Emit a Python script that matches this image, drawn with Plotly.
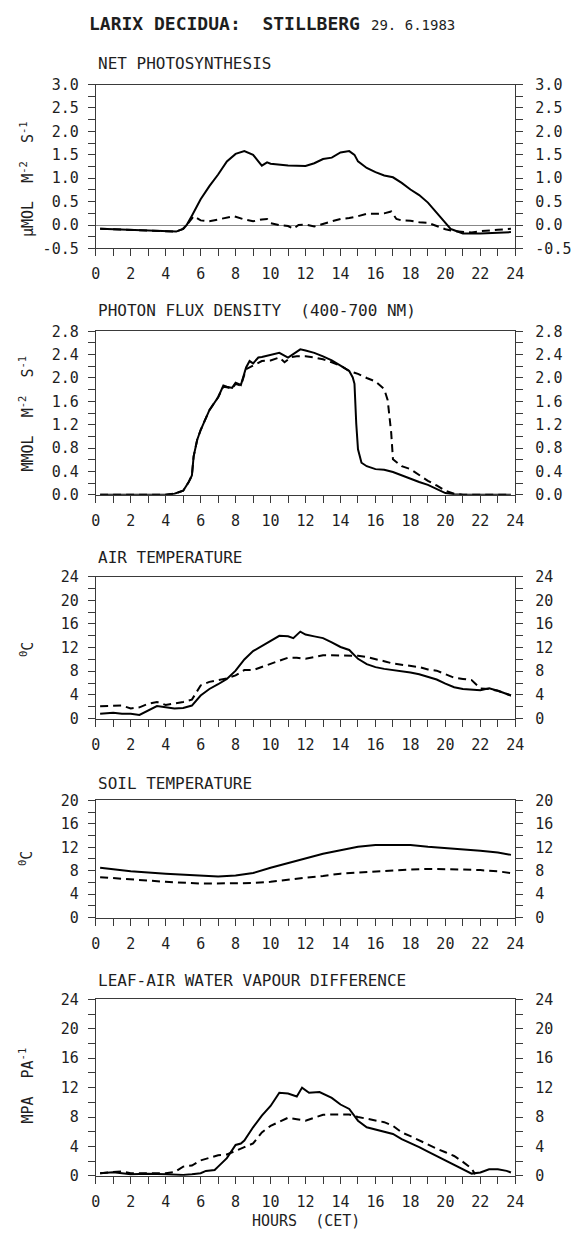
import plotly.graph_objects as go

# ---------------- DATA ----------------
# Net photosynthesis (umol m-2 s-1)
np_solid_h = [0.25, 1, 2, 3, 4, 4.6, 5.0, 5.2, 5.5, 6.0, 6.5, 7.0, 7.5, 8.0, 8.5, 9.0, 9.3, 9.5, 9.8, 10, 11, 12, 12.5,
              13, 13.5, 14, 14.5, 14.8, 15, 15.5, 16, 16.5, 17, 17.5, 18, 18.5, 19, 19.5, 20, 20.3, 20.5, 21, 22, 23, 23.75]
np_solid = [-0.08, -0.09, -0.1, -0.12, -0.14, -0.14, -0.08, 0.0, 0.2, 0.55, 0.83, 1.08, 1.36, 1.52, 1.58, 1.5, 1.36, 1.27,
            1.34, 1.31, 1.27, 1.26, 1.32, 1.41, 1.44, 1.55, 1.58, 1.5, 1.36, 1.22, 1.13, 1.06, 1.02, 0.9, 0.76, 0.64, 0.48,
            0.27, 0.06, -0.08, -0.11, -0.18, -0.18, -0.16, -0.15]
np_dash_h = [0.25, 1, 2, 3, 4, 4.6, 5.0, 5.2, 5.6, 6.0, 6.5, 7.0, 7.5, 7.9, 8.5, 9.0, 9.5, 9.8, 10, 10.5, 11, 11.3, 11.6, 12,
             12.5, 13, 13.5, 14, 14.5, 15, 15.5, 16, 16.5, 16.9, 17.2, 17.5, 18, 18.5, 19, 19.5, 20, 20.5, 21, 21.5, 22,
             22.5, 23, 23.75]
np_dash = [-0.08, -0.09, -0.1, -0.12, -0.14, -0.14, -0.08, 0.0, 0.19, 0.1, 0.08, 0.12, 0.17, 0.19, 0.12, 0.08, 0.12, 0.13,
           0.04, 0.0, -0.02, -0.08, 0.0, 0.01, -0.03, 0.03, 0.08, 0.13, 0.15, 0.19, 0.24, 0.24, 0.25, 0.29, 0.13, 0.1, 0.09,
           0.06, 0.05, -0.02, -0.09, -0.13, -0.15, -0.16, -0.13, -0.11, -0.1, -0.08]

# Photon flux density (mmol m-2 s-1)
pfd_solid_h = [0.25, 2, 4, 4.5, 5.0, 5.3, 5.5, 5.6, 5.8, 6.0, 6.5, 7.0, 7.3, 7.5, 7.8, 8.0, 8.3, 8.6, 8.8, 9.0, 9.3, 9.5,
               10, 10.5, 11, 11.3, 11.7, 12, 12.5, 13, 13.5, 14, 14.5, 14.7, 14.8, 14.9, 15.0, 15.2, 15.5, 16, 16.5, 17,
               17.5, 18, 18.5, 19, 19.5, 20, 20.5, 21, 22, 23, 23.75]
pfd_solid = [0.0, 0.0, 0.0, 0.02, 0.07, 0.21, 0.33, 0.66, 0.94, 1.11, 1.45, 1.67, 1.87, 1.85, 1.83, 1.92, 1.88, 2.18, 2.29,
             2.25, 2.35, 2.36, 2.39, 2.43, 2.35, 2.41, 2.49, 2.47, 2.43, 2.37, 2.3, 2.21, 2.12, 2.01, 1.9, 1.22, 0.78, 0.55,
             0.49, 0.44, 0.43, 0.39, 0.33, 0.28, 0.22, 0.17, 0.1, 0.03, 0.01, 0.0, 0.0, 0.0, 0.0]
pfd_dash_h = [0.25, 2, 4, 4.5, 5.0, 5.3, 5.5, 5.6, 5.8, 6.0, 6.5, 7.0, 7.3, 7.5, 7.8, 8.0, 8.3, 8.6, 9.0, 9.5, 10, 10.5,
              10.8, 11.2, 11.5, 12, 12.5, 13, 13.5, 14, 14.5, 15, 15.5, 16, 16.5, 16.7, 16.9, 17.0, 17.5, 18, 18.5, 19,
              19.5, 20, 20.5, 21, 22, 23, 23.75]
pfd_dash = [0.0, 0.0, 0.0, 0.02, 0.07, 0.21, 0.33, 0.66, 0.94, 1.11, 1.45, 1.67, 1.85, 1.84, 1.82, 1.9, 1.87, 2.15, 2.21,
            2.29, 2.3, 2.35, 2.27, 2.36, 2.37, 2.37, 2.35, 2.32, 2.27, 2.21, 2.12, 2.07, 2.0, 1.94, 1.81, 1.62, 1.06, 0.61,
            0.49, 0.44, 0.34, 0.24, 0.16, 0.07, 0.02, 0.0, 0.0, 0.0, 0.0]

# Air temperature (deg C)
air_solid_h = [0.25, 1, 1.5, 2, 2.5, 3, 3.5, 4, 4.5, 5, 5.5, 6, 6.5, 7, 7.5, 8, 8.5, 9, 9.5, 10, 10.5, 11, 11.3, 11.7,
               12, 12.5, 13, 13.5, 14, 14.5, 15, 15.5, 16, 16.5, 17, 17.5, 18, 18.5, 19, 19.5, 20, 20.5, 21, 21.5, 22,
               22.5, 23, 23.75]
air_solid = [0.8, 1.0, 0.8, 0.8, 0.6, 1.4, 2.1, 1.9, 1.7, 1.8, 2.2, 3.9, 5.0, 5.8, 6.7, 8.1, 10.0, 11.4, 12.3, 13.1, 14.0,
             13.9, 13.6, 14.7, 14.2, 13.9, 13.6, 12.9, 12.1, 11.6, 10.1, 9.2, 8.7, 8.4, 8.2, 8.1, 7.8, 7.5, 7.1, 6.6, 5.9,
             5.3, 5.0, 4.9, 4.8, 5.1, 4.7, 3.9]
air_dash_h = [0.25, 1, 1.5, 2, 2.5, 3, 3.5, 4, 4.5, 5, 5.5, 6, 6.5, 7, 7.5, 8, 8.5, 9, 9.5, 10, 10.5, 11, 11.5, 12, 12.5,
              13, 13.5, 14, 14.5, 15, 15.5, 16, 16.5, 17, 17.5, 18, 18.5, 19, 19.5, 20, 20.5, 21, 21.5, 22, 22.5, 23,
              23.75]
air_dash = [2.1, 2.2, 2.2, 1.7, 1.9, 2.5, 2.8, 2.3, 2.5, 2.8, 3.2, 5.6, 6.2, 6.5, 6.8, 7.3, 8.2, 8.2, 8.7, 9.2, 9.7, 10.3,
            10.3, 10.1, 10.4, 10.7, 10.7, 10.7, 10.7, 10.6, 10.4, 10.1, 9.7, 9.3, 9.1, 9.0, 8.7, 8.3, 8.1, 7.5, 6.9, 6.7,
            6.5, 5.1, 5.0, 4.7, 3.9]

# Soil temperature (deg C)
soil_h = [0.25, 2, 4, 6, 7, 8, 9, 10, 11, 12, 13, 14, 15, 16, 17, 18, 19, 20, 21, 22, 23, 23.75]
soil_solid = [8.5, 7.9, 7.5, 7.1, 7.0, 7.2, 7.6, 8.5, 9.3, 10.0, 10.9, 11.5, 12.1, 12.4, 12.4, 12.4, 12.1, 11.9, 11.7,
              11.4, 11.1, 10.7]
soil_dash = [6.9, 6.5, 6.1, 5.8, 5.8, 5.8, 5.9, 6.1, 6.5, 6.8, 7.1, 7.5, 7.7, 7.9, 8.1, 8.2, 8.3, 8.3, 8.2, 8.1, 7.9, 7.6]

# Leaf-air water vapour difference (mPa Pa-1)
vpd_solid_h = [0.25, 1, 2, 3, 4, 4.5, 5, 5.5, 6.0, 6.3, 6.8, 7.0, 7.5, 8.0, 8.3, 8.5, 9.0, 9.5, 10, 10.5, 11, 11.5, 11.8,
               12.2, 12.8, 13.5, 14, 14.5, 15, 15.5, 16, 16.5, 17, 17.5, 18, 18.5, 19, 19.5, 20, 20.5, 21, 21.5, 22,
               22.5, 23, 23.5, 23.75]
vpd_solid = [0.36, 0.5, 0.2, 0.27, 0.2, 0.1, 0.1, 0.2, 0.36, 0.67, 0.8, 1.25, 2.4, 4.2, 4.4, 4.8, 6.6, 8.2, 9.5, 11.3,
             11.2, 10.8, 12.0, 11.3, 11.4, 10.6, 9.7, 9.1, 7.5, 6.6, 6.3, 5.9, 5.7, 5.0, 4.5, 3.9, 3.3, 2.7, 2.1, 1.6, 0.9,
             0.3, 0.45, 0.9, 0.9, 0.67, 0.45]
vpd_dash_h = [0.25, 1.5, 2, 3, 4, 4.5, 5.0, 5.5, 6.0, 6.5, 7.0, 7.5, 8.0, 8.5, 9.0, 9.5, 10, 10.5, 11, 11.5, 12, 12.5, 13,
              13.5, 14, 14.5, 15, 15.5, 16, 16.5, 17, 17.5, 18, 18.5, 19, 19.5, 20, 20.5, 21, 21.5, 21.7]
vpd_dash = [0.36, 0.6, 0.36, 0.36, 0.36, 0.5, 1.25, 1.4, 2.1, 2.45, 2.8, 2.9, 3.35, 3.9, 4.4, 5.9, 6.8, 7.3, 7.9, 7.7,
            7.5, 7.9, 8.3, 8.35, 8.4, 8.35, 8.0, 7.8, 7.6, 7.3, 6.8, 5.9, 5.4, 4.8, 4.2, 3.7, 3.2, 2.7, 1.9, 1.0, 0.2]

hour_ticks = list(range(0, 25, 2))

panels = [
    dict(title="NET PHOTOSYNTHESIS", ylabel="\u00b5MOL  M<sup>-2</sup>  S<sup>-1</sup>",
         rng=[-0.5, 3.0], tickvals=[-0.5, 0, 0.5, 1.0, 1.5, 2.0, 2.5, 3.0], fmt=".1f", minor=0.25,
         series=[(np_solid_h, np_solid, "solid"), (np_dash_h, np_dash, "dash")], zero=True,
         top=76.7, bottom=243, title_y=55, label_y=172),
    dict(title="PHOTON FLUX DENSITY  (400-700 NM)", ylabel="MMOL  M<sup>-2</sup>  S<sup>-1</sup>",
         rng=[0, 2.8], tickvals=[0, 0.4, 0.8, 1.2, 1.6, 2.0, 2.4, 2.8], fmt=".1f", minor=0.2,
         series=[(pfd_solid_h, pfd_solid, "solid"), (pfd_dash_h, pfd_dash, "dash")], zero=False,
         top=327, bottom=493, title_y=306, label_y=410),
    dict(title="AIR TEMPERATURE", ylabel="<sup>0</sup>C",
         rng=[0, 24], tickvals=[0, 4, 8, 12, 16, 20, 24], fmt="d", minor=2,
         series=[(air_solid_h, air_solid, "solid"), (air_dash_h, air_dash, "dash")], zero=False,
         top=576, bottom=720, title_y=557, label_y=650),
    dict(title="SOIL TEMPERATURE", ylabel="<sup>0</sup>C",
         rng=[0, 20], tickvals=[0, 4, 8, 12, 16, 20], fmt="d", minor=2,
         series=[(soil_h, soil_solid, "solid"), (soil_h, soil_dash, "dash")], zero=False,
         top=803, bottom=922, title_y=786, label_y=862),
    dict(title="LEAF-AIR WATER VAPOUR DIFFERENCE", ylabel="MPA  PA<sup>-1</sup>",
         rng=[0, 24], tickvals=[0, 4, 8, 12, 16, 20, 24], fmt="d", minor=2,
         series=[(vpd_solid_h, vpd_solid, "solid"), (vpd_dash_h, vpd_dash, "dash")], zero=False,
         top=1005, bottom=1184, title_y=986, label_y=1092),
]

W, H = 578, 1240
X0, X1 = 93, 523
FONT = "DejaVu Sans Mono"
INK = "#1e1e1e"
AXC = "#3a3a3a"

fig = go.Figure()
annotations = []
layout = dict(width=W, height=H, margin=dict(l=0, r=0, t=0, b=0, pad=0),
              paper_bgcolor="white", plot_bgcolor="white", showlegend=False,
              font=dict(family=FONT, size=14, color=INK))

def py(v):
    return 1 - v / H

for i, p in enumerate(panels):
    n = i + 1
    xa = "x" if n == 1 else f"x{n}"
    ya = "y" if n == 1 else f"y{n}"
    yr = f"y{n + 5}"
    for hx, vals, dash in p["series"]:
        fig.add_trace(go.Scatter(x=hx, y=vals, mode="lines", xaxis=xa, yaxis=ya,
                                 line=dict(color="black", width=2,
                                           dash="solid" if dash == "solid" else "8px,5px"),
                                 hoverinfo="skip"))
    dom = [py(p["bottom"]), py(p["top"])]
    ticktext = [format(v, p["fmt"]) if p["fmt"] != "d" else str(int(v)) for v in p["tickvals"]]
    xkey = "xaxis" if n == 1 else f"xaxis{n}"
    ykey = "yaxis" if n == 1 else f"yaxis{n}"
    layout[xkey] = dict(domain=[X0 / W, X1 / W], anchor=ya, range=[0, 24], tickvals=hour_ticks,
                        ticks="outside", ticklen=7, tickwidth=1, tickcolor=AXC,
                        showline=True, linecolor=AXC, linewidth=1, mirror=True,
                        showgrid=False, zeroline=False, ticklabelstandoff=5,
                        tickfont=dict(family=FONT, size=15, color=INK),
                        minor=dict(dtick=1, tick0=0, ticks="outside", ticklen=7, tickcolor=AXC, showgrid=False))
    layout[ykey] = dict(domain=dom, anchor=xa, range=p["rng"], tickvals=p["tickvals"], ticktext=ticktext,
                        ticks="outside", ticklen=7, tickwidth=1, tickcolor=AXC,
                        showline=True, linecolor=AXC, linewidth=1, mirror=True,
                        showgrid=False, zeroline=p["zero"], zerolinecolor="#888888", zerolinewidth=1,
                        ticklabelstandoff=6,
                        tickfont=dict(family=FONT, size=15, color=INK),
                        minor=dict(dtick=p["minor"], tick0=p["rng"][0], ticks="outside", ticklen=7,
                                   tickcolor=AXC, showgrid=False))
    layout[f"yaxis{n + 5}"] = dict(overlaying=ya, side="right", anchor=xa, range=p["rng"],
                                   tickvals=p["tickvals"], ticktext=ticktext,
                                   ticks="outside", ticklen=7, tickwidth=1, tickcolor=AXC,
                                   showline=False, showgrid=False, zeroline=False, ticklabelstandoff=9,
                                   tickfont=dict(family=FONT, size=15, color=INK),
                                   minor=dict(dtick=p["minor"], tick0=p["rng"][0], ticks="outside", ticklen=7,
                                              tickcolor=AXC, showgrid=False))
    # invisible carrier so that the right axis is drawn
    fig.add_trace(go.Scatter(x=p["series"][0][0], y=p["series"][0][1], mode="lines", xaxis=xa, yaxis=yr,
                             line=dict(width=0, color="rgba(0,0,0,0)"), hoverinfo="skip"))
    annotations.append(dict(text=p["title"], x=X0 / W, y=py(p["title_y"]), xref="paper", yref="paper",
                            xanchor="left", yanchor="middle", showarrow=False,
                            font=dict(family=FONT, size=16, color=INK)))
    annotations.append(dict(text=p["ylabel"], x=22 / W, y=py(p["label_y"]), xref="paper", yref="paper",
                            xanchor="center", yanchor="middle", showarrow=False, textangle=-90,
                            font=dict(family=FONT, size=15, color=INK)))

annotations.append(dict(text="<b>LARIX DECIDUA:  STILLBERG</b>", x=84 / W, y=py(15), xref="paper", yref="paper",
                        xanchor="left", yanchor="middle", showarrow=False,
                        font=dict(family=FONT, size=18, color=INK)))
annotations.append(dict(text="29. 6.1983", x=373 / W, y=py(16), xref="paper", yref="paper",
                        xanchor="left", yanchor="middle", showarrow=False,
                        font=dict(family=FONT, size=14, color=INK)))
annotations.append(dict(text="HOURS  (CET)", x=308 / W, y=py(1230), xref="paper", yref="paper",
                        xanchor="center", yanchor="middle", showarrow=False,
                        font=dict(family=FONT, size=15, color=INK)))

layout["annotations"] = annotations
fig.update_layout(**layout)
fig.write_html("out.html")
